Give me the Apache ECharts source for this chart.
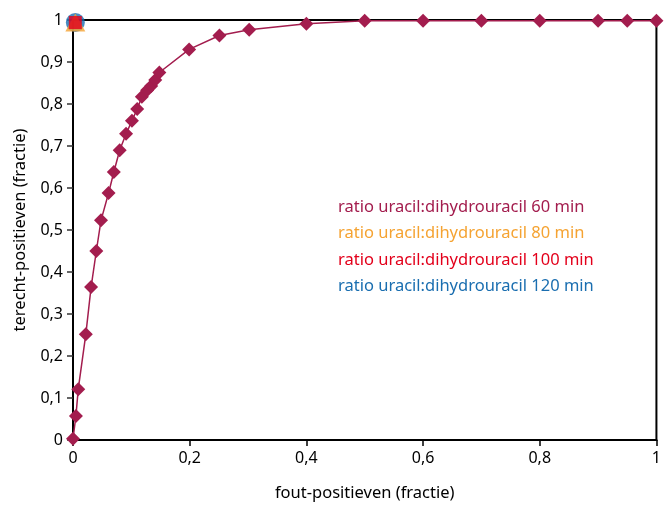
<!DOCTYPE html>
<html>
<head>
<meta charset="utf-8">
<script src="https://cdn.jsdelivr.net/npm/echarts@6/dist/echarts.min.js"></script>
<style>
  html, body { margin: 0; padding: 0; background: #fff; }
  #chart { width: 664px; height: 507px; }
</style>
</head>
<body>
<div id="chart"></div>
<script>
// ROC-curves ratio uracil:dihydrouracil
const seriesNames = [
  'ratio uracil:dihydrouracil 60 min',
  'ratio uracil:dihydrouracil 80 min',
  'ratio uracil:dihydrouracil 100 min',
  'ratio uracil:dihydrouracil 120 min'
]
const seriesColors = ['#a31d4e', '#f5a332', '#e3001b', '#1a6eb0']

// 60 min: fout-positieven / terecht-positieven
const fpr60 = [0, 0.005, 0.009, 0.022, 0.031, 0.040, 0.048, 0.061, 0.070, 0.080, 0.091,
  0.101, 0.110, 0.118, 0.127, 0.134, 0.141, 0.148, 0.199, 0.251, 0.302, 0.40,
  0.50, 0.60, 0.70, 0.80, 0.90, 0.95, 1.0]
const tpr60 = [0.003, 0.057, 0.121, 0.252, 0.364, 0.450, 0.523, 0.588, 0.638, 0.690, 0.729,
  0.760, 0.788, 0.817, 0.833, 0.843, 0.857, 0.875, 0.930, 0.963, 0.977, 0.991,
  0.998, 0.998, 0.998, 0.998, 0.998, 0.998, 0.998]

// 80, 100 en 120 min: een punt linksboven
const fpr80 = [0.004], tpr80 = [0.994]
const fpr100 = [0.004], tpr100 = [0.994]
const fpr120 = [0.004], tpr120 = [0.994]

const xTicks = [0, 0.2, 0.4, 0.6, 0.8, 1]
const yTicks = [0, 0.1, 0.2, 0.3, 0.4, 0.5, 0.6, 0.7, 0.8, 0.9, 1]

const zip = (xs, ys) => xs.map((x, i) => [x, ys[i]])
const fmt = v => {
  const r = Math.round(v * 10) / 10
  if (r === 0) return '0'
  if (r === 1) return '1'
  return r.toFixed(1).replace('.', ',')
}

const font = 'Noto Sans'
const chart = echarts.init(document.getElementById('chart'), null, { renderer: 'canvas' })

const option = {
  animation: false,
  backgroundColor: '#fff',
  textStyle: { fontFamily: font },
  grid: {
    left: 73, right: 5, top: 20, bottom: 63,
    show: true, borderColor: '#000', borderWidth: 2, containLabel: false
  },
  legend: {
    orient: 'vertical',
    left: 328, top: 192,
    itemWidth: 0, itemHeight: 0,
    itemGap: 6.5,
    selectedMode: false,
    data: seriesNames.map((n, i) => ({
      name: n, icon: 'rect',
      textStyle: { color: seriesColors[i], fontSize: 16.5, fontFamily: font, lineHeight: 20 }
    }))
  },
  xAxis: {
    type: 'value',
    min: xTicks[0], max: xTicks[xTicks.length - 1], interval: 0.2,
    name: 'fout-positieven (fractie)',
    nameLocation: 'middle', nameGap: 45,
    nameTextStyle: { color: '#000', fontSize: 16.5, fontFamily: font },
    axisLine: { show: true, lineStyle: { color: '#000', width: 2 } },
    axisTick: { show: true, inside: false, length: 6, lineStyle: { color: '#000', width: 1.5 } },
    axisLabel: { color: '#000', fontSize: 16, fontFamily: font, margin: 10, formatter: fmt },
    splitLine: { show: false }
  },
  yAxis: {
    type: 'value',
    min: yTicks[0], max: yTicks[yTicks.length - 1], interval: 0.1,
    name: 'terecht-positieven (fractie)',
    nameLocation: 'middle', nameGap: 44, nameRotate: 90,
    nameTextStyle: { color: '#000', fontSize: 16.5, fontFamily: font },
    axisLine: { show: true, lineStyle: { color: '#000', width: 2 } },
    axisTick: { show: true, inside: false, length: 6, lineStyle: { color: '#333', width: 1.5 } },
    axisLabel: { color: '#000', fontSize: 16, fontFamily: font, margin: 10, formatter: fmt },
    splitLine: { show: false }
  },
  series: [
    {
      name: seriesNames[0], type: 'line', z: 3,
      data: zip(fpr60, tpr60),
      symbol: 'diamond', symbolSize: 14,
      itemStyle: { color: seriesColors[0] },
      lineStyle: { color: seriesColors[0], width: 1.5 }
    },
    {
      name: seriesNames[1], type: 'scatter', z: 4,
      data: zip(fpr80, tpr80),
      symbol: 'triangle', symbolSize: [20, 18],
      itemStyle: { color: seriesColors[1] }
    },
    {
      name: seriesNames[2], type: 'scatter', z: 5,
      data: zip(fpr100, tpr100),
      symbol: 'rect', symbolSize: 13,
      itemStyle: { color: seriesColors[2] }
    },
    {
      name: seriesNames[3], type: 'scatter', z: 3,
      data: zip(fpr120, tpr120),
      symbol: 'circle', symbolSize: 19,
      itemStyle: { color: seriesColors[3] }
    }
  ]
}

chart.setOption(option)
</script>
</body>
</html>
